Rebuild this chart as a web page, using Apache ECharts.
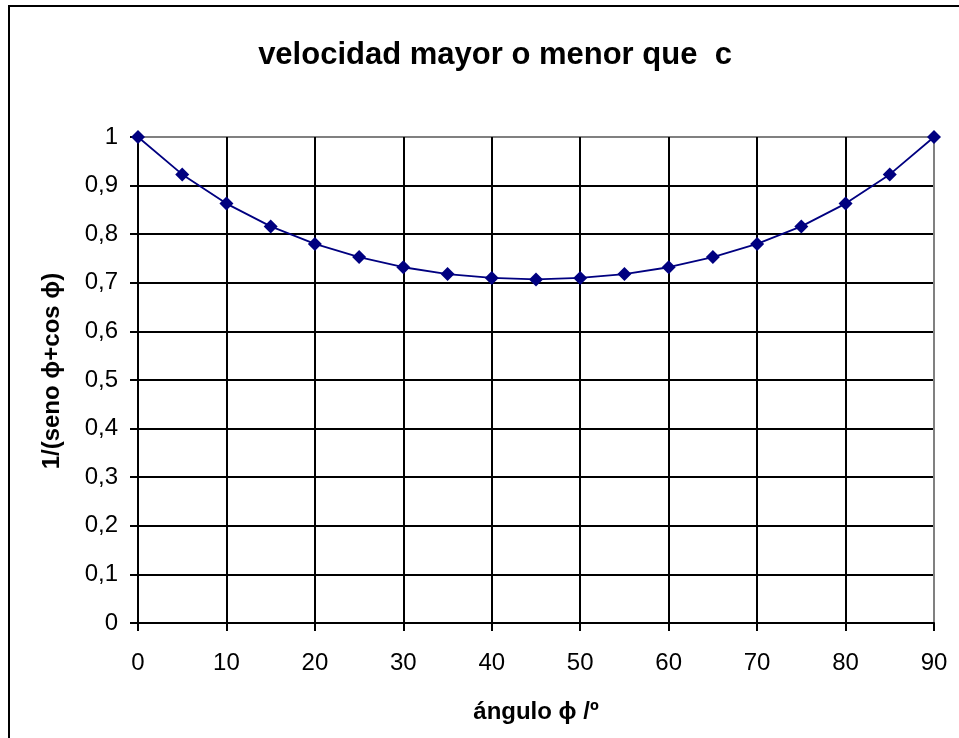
<!DOCTYPE html>
<html>
<head>
<meta charset="utf-8">
<script src="https://cdn.jsdelivr.net/npm/echarts@6/dist/echarts.min.js"></script>
<style>
  html, body { margin: 0; padding: 0; background: #fff; }
  #chart { width: 959px; height: 738px; }
</style>
</head>
<body>
<div id="chart"></div>
<script>
// angulo phi en grados
var angulos = [0, 5, 10, 15, 20, 25, 30, 35, 40, 45, 50, 55, 60, 65, 70, 75, 80, 85, 90];
// 1/(seno phi + cos phi)
var valores = [1, 0.923, 0.863, 0.816, 0.780, 0.753, 0.732, 0.718, 0.710, 0.707, 0.710, 0.718, 0.732, 0.753, 0.780, 0.816, 0.863, 0.923, 1];

var titulo = 'velocidad mayor o menor que  c';
var FONT = '"Liberation Sans", Arial, sans-serif';

// lineas de rejilla negras, la ultima gris (borde del area)
var gridX = [], gridY = [];
for (var i = 0; i < 9; i++) gridX.push('#000');
gridX.push('#808080');
for (var j = 0; j < 10; j++) gridY.push('#000');
gridY.push('#808080');

var chart = echarts.init(document.getElementById('chart'));
chart.setOption({
  animation: false,
  backgroundColor: '#fff',
  title: {
    text: titulo,
    left: 490,
    textAlign: 'center',
    top: 35,
    textStyle: { fontFamily: FONT, fontSize: 31, fontWeight: 'bold', color: '#000' }
  },
  graphic: [{
    type: 'rect',
    shape: { x: 9, y: 6, width: 1000, height: 800 },
    style: { fill: null, stroke: '#000', lineWidth: 2 },
    silent: true
  }],
  grid: {
    left: 138, right: 959 - 934, top: 137, bottom: 738 - 623,
    show: true, borderColor: '#808080', borderWidth: 2, backgroundColor: '#fff'
  },
  xAxis: {
    type: 'value', min: 0, max: 90, interval: 10,
    name: 'ángulo {p|ϕ} /º',
    nameLocation: 'middle', nameGap: 77,
    nameTextStyle: {
      fontFamily: FONT, fontSize: 24, fontWeight: 'bold', color: '#000',
      rich: { p: { fontFamily: FONT, fontSize: 24, fontWeight: 'bold', color: '#000' } }
    },
    axisLine: { show: true, lineStyle: { color: '#000', width: 2 } },
    axisTick: { show: true, length: 8, inside: false, lineStyle: { color: '#000', width: 2 } },
    axisLabel: { margin: 28, fontFamily: FONT, fontSize: 24, color: '#000' },
    splitLine: { show: true, lineStyle: { color: gridX, width: 2 } }
  },
  yAxis: {
    type: 'value', min: 0, max: 1, interval: 0.1,
    name: '1/(seno {p|ϕ}+cos {p|ϕ})',
    nameLocation: 'middle', nameGap: 74,
    nameTextStyle: {
      fontFamily: FONT, fontSize: 24, fontWeight: 'bold', color: '#000',
      padding: [0, 0, 0, 18],
      rich: { p: { fontFamily: FONT, fontSize: 24, fontWeight: 'bold', color: '#000' } }
    },
    axisLine: { show: true, lineStyle: { color: '#000', width: 2 } },
    axisTick: { show: true, length: 8, lineStyle: { color: '#000', width: 2 } },
    axisLabel: {
      margin: 20, fontFamily: FONT, fontSize: 24, color: '#000',
      formatter: function (v) { return String(Math.round(v * 10) / 10).replace('.', ','); }
    },
    splitLine: { show: true, lineStyle: { color: gridY, width: 2 } }
  },
  series: [{
    type: 'line',
    data: angulos.map(function (a, k) { return [a, valores[k]]; }),
    symbol: 'diamond',
    symbolSize: 14,
    clip: false,
    lineStyle: { color: '#000080', width: 1.8 },
    itemStyle: { color: '#000080' }
  }]
});
</script>
</body>
</html>
